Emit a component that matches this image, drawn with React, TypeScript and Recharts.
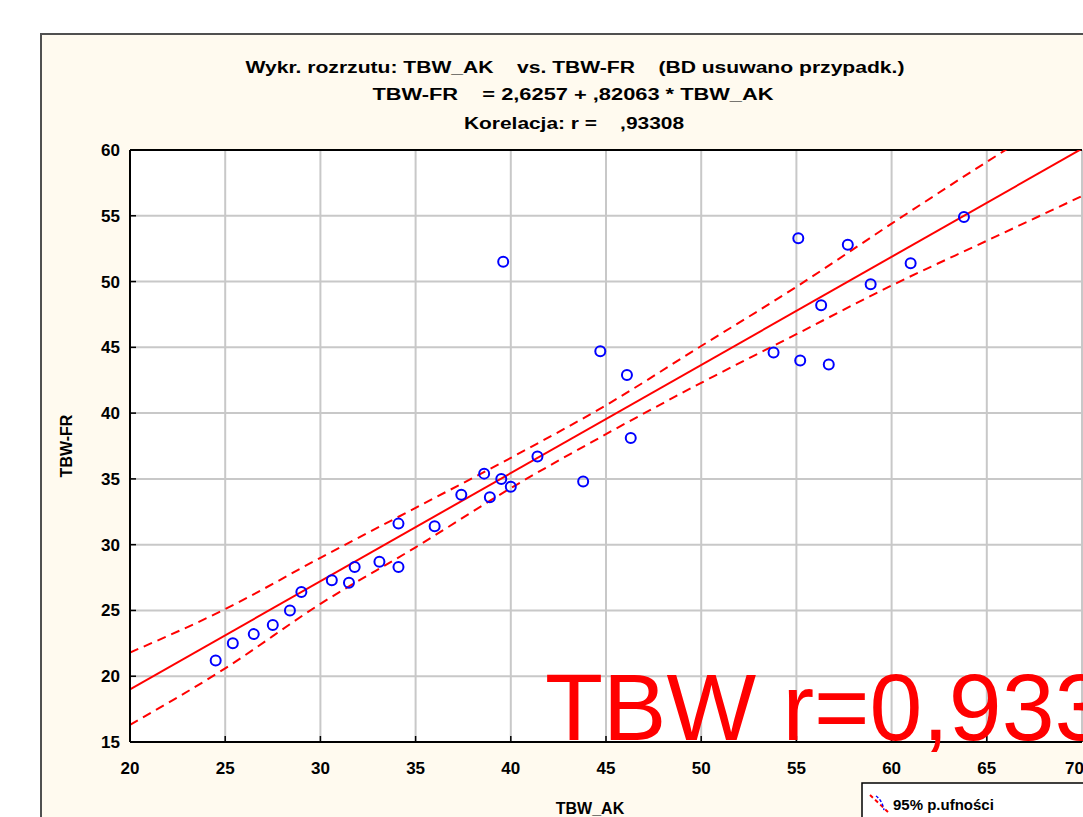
import React from 'react';
import {
  ComposedChart,
  Scatter,
  Line,
  XAxis,
  YAxis,
  CartesianGrid,
  ReferenceLine,
} from 'recharts';

// TBW_AK (x) vs TBW-FR (y)
const tbwAk = [
  24.5, 25.4, 26.5, 27.5, 28.4, 29.0, 30.6, 31.5, 31.8, 33.1, 34.1,
  34.1, 36.0, 37.4, 38.6, 38.9, 39.5, 40.0, 41.4, 43.8, 39.6, 44.7,
  46.1, 46.3, 53.8, 55.1, 55.2, 56.7, 56.3, 57.7, 58.9, 61.0, 63.8,
];
const tbwFr = [
  21.2, 22.5, 23.2, 23.9, 25.0, 26.4, 27.3, 27.1, 28.3, 28.7, 28.3,
  31.6, 31.4, 33.8, 35.4, 33.6, 35.0, 34.4, 36.7, 34.8, 51.5, 44.7,
  42.9, 38.1, 44.6, 53.3, 44.0, 43.7, 48.2, 52.8, 49.8, 51.4, 54.9,
];

// fitted line (TBW-FR = 2,6257 + ,82063 * TBW_AK), ends read at the plot edges
const fitX = [20, 70];
const fitY = [19.0, 60.1];

// 95% confidence band, read at every 5 units of TBW_AK
const bandX = [20, 25, 30, 35, 40, 45, 50, 55, 60, 65, 70];
const bandUpper = [21.8, 25.1, 29.0, 32.8, 36.6, 40.6, 45.1, 49.6, 54.4, 59.1, 63.6];
const bandLower = [16.3, 20.6, 25.5, 29.8, 34.3, 38.4, 42.3, 46.0, 49.7, 53.1, 56.5];

const xTicks = [20, 25, 30, 35, 40, 45, 50, 55, 60, 65, 70];
const yTicks = [15, 20, 25, 30, 35, 40, 45, 50, 55, 60];

// non-breaking spaces keep the wide gaps of the original title
const titleLines = [
  'Wykr. rozrzutu: TBW_AK\u00a0\u00a0\u00a0 vs. TBW-FR\u00a0\u00a0\u00a0 (BD usuwano przypadk.)',
  'TBW-FR\u00a0\u00a0\u00a0 = 2,6257 + ,82063 * TBW_AK',
  'Korelacja: r =\u00a0\u00a0\u00a0 ,93308',
];

const points = tbwAk.map((x, i) => ({ x, y: tbwFr[i] }));
const fitData = fitX.map((x, i) => ({ x, fit: fitY[i] }));
const bandData = bandX.map((x, i) => ({ x, upper: bandUpper[i], lower: bandLower[i] }));

const font = '"Liberation Sans", Arial, sans-serif';

const Ring = (props: any) => (
  <circle cx={props.cx} cy={props.cy} r={5} fill="none" stroke="#0000ff" strokeWidth={2} />
);

export default function App() {
  return (
    <div style={{ position: 'fixed', left: 0, top: 0, width: 1083, height: 817, overflow: 'hidden', background: '#fff' }}>
      <svg width={1083} height={817} style={{ position: 'absolute', left: 0, top: 0 }}>
        <rect x={41} y={34} width={1100} height={820} fill="#fffaef" stroke="#505050" strokeWidth={2} />
      </svg>
      <div style={{ position: 'absolute', left: 0, top: 0 }}>
        <ComposedChart width={1083} height={817} margin={{ top: 150, right: 1, bottom: 15, left: 80 }}>
          <CartesianGrid stroke="#c8c8c8" strokeWidth={2} fill="#ffffff" fillOpacity={1} />
          <XAxis
            type="number"
            dataKey="x"
            domain={[20, 70]}
            ticks={xTicks}
            allowDataOverflow
            height={60}
            stroke="#000"
            axisLine={{ stroke: '#000', strokeWidth: 2 }}
            tickLine={{ stroke: '#000', strokeWidth: 1.5 }}
            tickSize={-6}
            tickMargin={26}
            tick={{ fill: '#000', fontSize: 17, fontWeight: 'bold', fontFamily: font }}
          />
          <YAxis
            type="number"
            dataKey="y"
            domain={[15, 60]}
            ticks={yTicks}
            allowDataOverflow
            width={50}
            axisLine={{ stroke: '#000', strokeWidth: 2 }}
            tickLine={{ stroke: '#000', strokeWidth: 1.5 }}
            tickSize={-6}
            tickMargin={16}
            tick={{ fill: '#000', fontSize: 17, fontWeight: 'bold', fontFamily: font }}
          />
          <ReferenceLine y={60} stroke="#000" strokeWidth={2} />
          <Line
            data={bandData}
            dataKey="upper"
            type="monotone"
            stroke="#ff0000"
            strokeWidth={2}
            strokeDasharray="9 6"
            dot={false}
            isAnimationActive={false}
          />
          <Line
            data={bandData}
            dataKey="lower"
            type="monotone"
            stroke="#ff0000"
            strokeWidth={2}
            strokeDasharray="9 6"
            dot={false}
            isAnimationActive={false}
          />
          <Line
            data={fitData}
            dataKey="fit"
            type="linear"
            stroke="#ff0000"
            strokeWidth={2}
            dot={false}
            isAnimationActive={false}
          />
          <Scatter data={points} dataKey="y" shape={Ring} isAnimationActive={false} />
        </ComposedChart>
      </div>
      <svg width={1083} height={817} style={{ position: 'absolute', left: 0, top: 0, pointerEvents: 'none' }}>
        <g fontFamily={font} fontWeight="bold" fontSize={16} fill="#000" textAnchor="middle">
          <text x={575} y={73} textLength={659} lengthAdjust="spacingAndGlyphs">{titleLines[0]}</text>
          <text x={573} y={100} textLength={401} lengthAdjust="spacingAndGlyphs">{titleLines[1]}</text>
          <text x={574} y={129} textLength={220} lengthAdjust="spacingAndGlyphs">{titleLines[2]}</text>
          <text x={590} y={814}>TBW_AK</text>
          <text x={72} y={446} transform="rotate(-90 72 446)">TBW-FR</text>
        </g>
        <text x={545} y={740} fontFamily={font} fontSize={95} fill="#ff0000">TBW r=0,933</text>
        <rect x={862} y={783} width={260} height={60} fill="#ffffff" stroke="#000" strokeWidth={1.5} />
        <line x1={870} y1={795} x2={888} y2={812} stroke="#ff0000" strokeWidth={2} strokeDasharray="4 3" />
        <path d="M876 796 Q882 800 884 810" fill="none" stroke="#0000ff" strokeWidth={1.5} strokeDasharray="3 2" />
        <text x={893} y={810} fontFamily={font} fontWeight="bold" fontSize={15} fill="#000">95% p.ufności</text>
      </svg>
    </div>
  );
}
